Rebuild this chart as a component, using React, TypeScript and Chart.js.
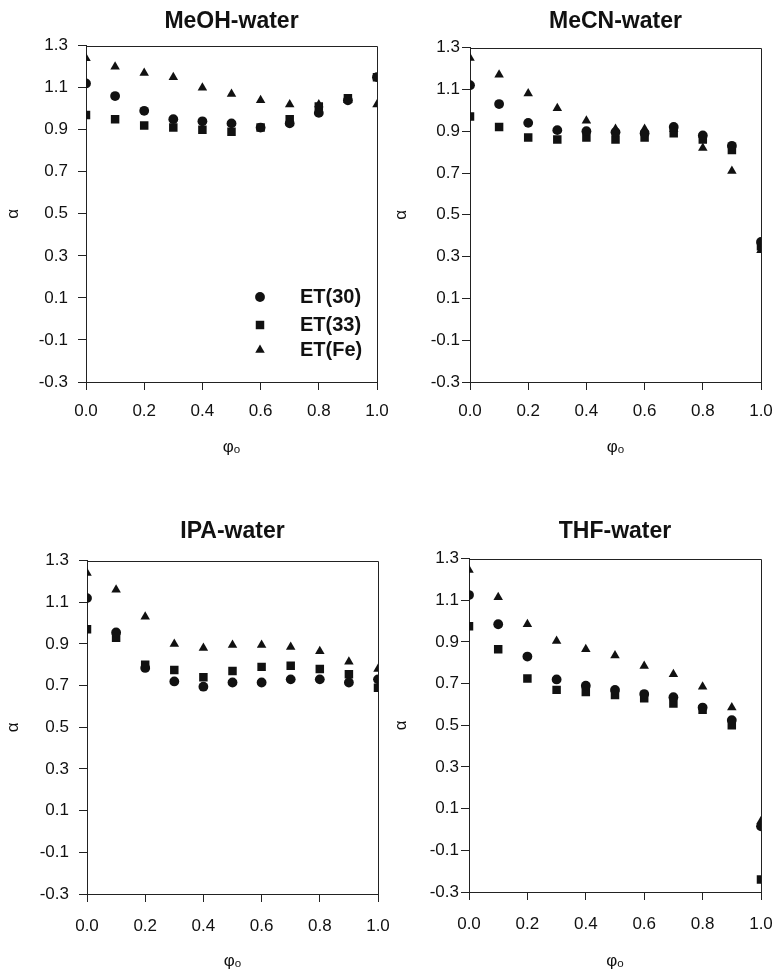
import React, { useEffect, useRef } from "react";
import { Chart, registerables } from "chart.js";
import { drawPoint } from "chart.js/helpers";

Chart.register(...registerables);

// ---------- data ----------
const phi = [0, 0.1, 0.2, 0.3, 0.4, 0.5, 0.6, 0.7, 0.8, 0.9, 1.0];
const seriesNames = ["ET(30)", "ET(33)", "ET(Fe)"];
const panelTitles = ["MeOH-water", "MeCN-water", "IPA-water", "THF-water"];
const xTicks = [0, 0.2, 0.4, 0.6, 0.8, 1.0];
const yTicks = [-0.3, -0.1, 0.1, 0.3, 0.5, 0.7, 0.9, 1.1, 1.3];
const xAxisTitle = "φₒ";
const yAxisTitle = "α";

const meohET30 = [1.12, 1.06, 0.99, 0.95, 0.94, 0.93, 0.91, 0.93, 0.98, 1.04, 1.15];
const meohET33 = [0.97, 0.95, 0.92, 0.91, 0.9, 0.89, 0.91, 0.95, 1.01, 1.05, 1.15];
const meohETFe = [1.24, 1.2, 1.17, 1.15, 1.1, 1.07, 1.04, 1.02, 1.02, 1.04, 1.02];

const mecnET30 = [1.12, 1.03, 0.94, 0.905, 0.9, 0.895, 0.89, 0.92, 0.88, 0.83, 0.37];
const mecnET33 = [0.97, 0.92, 0.87, 0.86, 0.87, 0.86, 0.87, 0.89, 0.86, 0.81, 0.35];
const mecnETFe = [1.25, 1.17, 1.08, 1.01, 0.95, 0.91, 0.91, 0.91, 0.82, 0.71, 0.33];

const ipaET30 = [1.12, 0.955, 0.785, 0.72, 0.695, 0.715, 0.715, 0.73, 0.73, 0.715, 0.73];
const ipaET33 = [0.97, 0.93, 0.8, 0.775, 0.74, 0.77, 0.79, 0.795, 0.78, 0.755, 0.69];
const ipaETFe = [1.24, 1.16, 1.03, 0.9, 0.88, 0.895, 0.895, 0.885, 0.865, 0.815, 0.78];

const thfET30 = [1.125, 0.985, 0.83, 0.72, 0.69, 0.67, 0.65, 0.635, 0.585, 0.525, 0.015];
const thfET33 = [0.975, 0.865, 0.725, 0.67, 0.66, 0.645, 0.63, 0.605, 0.575, 0.5, -0.24];
const thfETFe = [1.245, 1.115, 0.985, 0.905, 0.865, 0.835, 0.785, 0.745, 0.685, 0.585, 0.04];

const panelSeries = [
  [meohET30, meohET33, meohETFe],
  [mecnET30, mecnET33, mecnETFe],
  [ipaET30, ipaET33, ipaETFe],
  [thfET30, thfET33, thfETFe],
];

// ---------- styles / layout ----------
const FONT = '"Liberation Sans", Arial, Helvetica, sans-serif';
const INK = "#111111";
const pointStyles = ["circle", "rect", "triangle"];
const pointRadii = [4.9, 6.0, 5.5];

const panelLayouts = [
  { left: 0, top: 0, w: 390, h: 480, yW: 86, yPad: 10, padR: 13, tTop: 8, tBot: 10, xH: 98, xTick: 11, xTitlePad: 22, legend: true },
  { left: 388, top: 0, w: 388, h: 480, yW: 82, yPad: 2, padR: 15, tTop: 8, tBot: 12, xH: 98, xTick: 11, xTitlePad: 22, legend: false },
  { left: 0, top: 480, w: 390, h: 489, yW: 87, yPad: 10, padR: 12, tTop: 38, tBot: 15, xH: 75, xTick: 14, xTitlePad: -3, legend: false },
  { left: 388, top: 480, w: 388, h: 489, yW: 81, yPad: 2, padR: 15, tTop: 38, tBot: 13, xH: 77, xTick: 14, xTitlePad: -3, legend: false },
];

const framePlugin = {
  id: "frame",
  beforeDatasetsDraw(chart: any) {
    const { ctx, chartArea } = chart;
    ctx.save();
    ctx.strokeStyle = "#222";
    ctx.lineWidth = 1;
    const l = Math.round(chartArea.left) + 0.5;
    const t = Math.round(chartArea.top) + 0.5;
    const r = Math.round(chartArea.right) + 0.5;
    const b = Math.round(chartArea.bottom) + 0.5;
    ctx.beginPath();
    ctx.moveTo(l, t);
    ctx.lineTo(r, t);
    ctx.lineTo(r, b);
    ctx.stroke();
    ctx.restore();
  },
};

const centerTitlePlugin = {
  id: "centerTitle",
  afterLayout(chart: any) {
    if (chart.titleBlock) {
      chart.titleBlock.left = chart.chartArea.left;
      chart.titleBlock.right = chart.chartArea.right;
      chart.titleBlock.width = chart.chartArea.right - chart.chartArea.left;
    }
  },
};

const insideLegendPlugin = {
  id: "insideLegend",
  afterDatasetsDraw(chart: any, _args: any, opts: any) {
    if (!opts || !opts.display) return;
    const { ctx, chartArea } = chart;
    ctx.save();
    chart.data.datasets.forEach((ds: any, i: number) => {
      const y = chartArea.bottom + opts.rowY[i];
      const mx = chartArea.right + opts.markerX;
      ctx.fillStyle = ds.backgroundColor;
      ctx.strokeStyle = ds.borderColor;
      ctx.lineWidth = 0;
      drawPoint(ctx, { pointStyle: ds.pointStyle, rotation: 0, radius: ds.pointRadius, borderWidth: 0 } as any, mx, y);
      ctx.fillStyle = INK;
      ctx.font = `bold 20px ${FONT}`;
      ctx.textAlign = "left";
      ctx.textBaseline = "middle";
      ctx.fillText(ds.label, chartArea.right + opts.textX, y);
    });
    ctx.restore();
  },
};

function Panel({ index }: { index: number }) {
  const ref = useRef<HTMLCanvasElement | null>(null);
  const L = panelLayouts[index];

  useEffect(() => {
    const canvas = ref.current;
    if (!canvas) return;
    const datasets = panelSeries[index].map((vals, s) => ({
      label: seriesNames[s],
      data: phi.map((x, k) => ({ x, y: vals[k] })),
      pointStyle: pointStyles[s],
      pointRadius: pointRadii[s],
      pointHoverRadius: pointRadii[s],
      backgroundColor: INK,
      borderColor: INK,
      borderWidth: 0,
      showLine: false,
    }));

    const chart = new Chart(canvas, {
      type: "scatter",
      data: { datasets },
      plugins: [framePlugin, centerTitlePlugin, insideLegendPlugin],
      options: {
        responsive: false,
        animation: false,
        devicePixelRatio: 1,
        layout: { padding: { left: 0, right: L.padR, top: 0, bottom: 0 } },
        scales: {
          x: {
            type: "linear",
            min: 0,
            max: 1,
            afterBuildTicks: (s: any) => {
              s.ticks = xTicks.map((v) => ({ value: v }));
            },
            afterFit: (s: any) => {
              s.height = L.xH;
              s.paddingLeft = 0;
              s.paddingRight = 0;
            },
            ticks: {
              callback: (v: any) => Number(v).toFixed(1),
              font: { family: FONT, size: 17 },
              color: INK,
              padding: L.xTick,
              maxRotation: 0,
            },
            grid: { drawOnChartArea: false, drawTicks: true, tickLength: 8, color: "#222", lineWidth: 1 },
            border: { display: true, color: "#222", width: 1 },
            title: {
              display: true,
              text: xAxisTitle,
              font: { family: FONT, size: 17 },
              color: INK,
              padding: { top: 0, bottom: L.xTitlePad },
            },
          },
          y: {
            type: "linear",
            min: -0.3,
            max: 1.3,
            afterBuildTicks: (s: any) => {
              s.ticks = yTicks.map((v) => ({ value: v }));
            },
            afterFit: (s: any) => {
              s.width = L.yW;
            },
            ticks: {
              callback: (v: any) => Number(v).toFixed(1),
              font: { family: FONT, size: 17 },
              color: INK,
              padding: L.yPad,
            },
            grid: { drawOnChartArea: false, drawTicks: true, tickLength: 8, color: "#222", lineWidth: 1 },
            border: { display: true, color: "#222", width: 1 },
            title: {
              display: true,
              text: yAxisTitle,
              font: { family: FONT, size: 17 },
              color: INK,
              padding: { top: 3, bottom: 0 },
            },
          },
        },
        plugins: {
          legend: { display: false },
          tooltip: { enabled: false },
          title: {
            display: true,
            text: panelTitles[index],
            font: { family: FONT, size: 23, weight: "bold" },
            color: INK,
            padding: { top: L.tTop, bottom: L.tBot },
          },
          insideLegend: { display: L.legend, markerX: -117, textX: -77, rowY: [-85, -57, -32] },
        } as any,
      } as any,
    });
    return () => chart.destroy();
  }, [index]);

  return (
    <canvas
      ref={ref}
      width={L.w}
      height={L.h}
      style={{ position: "absolute", left: L.left, top: L.top, width: L.w, height: L.h }}
    />
  );
}

export default function App() {
  return (
    <div style={{ position: "absolute", left: 0, top: 0, width: 776, height: 969, background: "#fff", overflow: "hidden" }}>
      {[0, 1, 2, 3].map((i) => (
        <Panel key={i} index={i} />
      ))}
    </div>
  );
}
